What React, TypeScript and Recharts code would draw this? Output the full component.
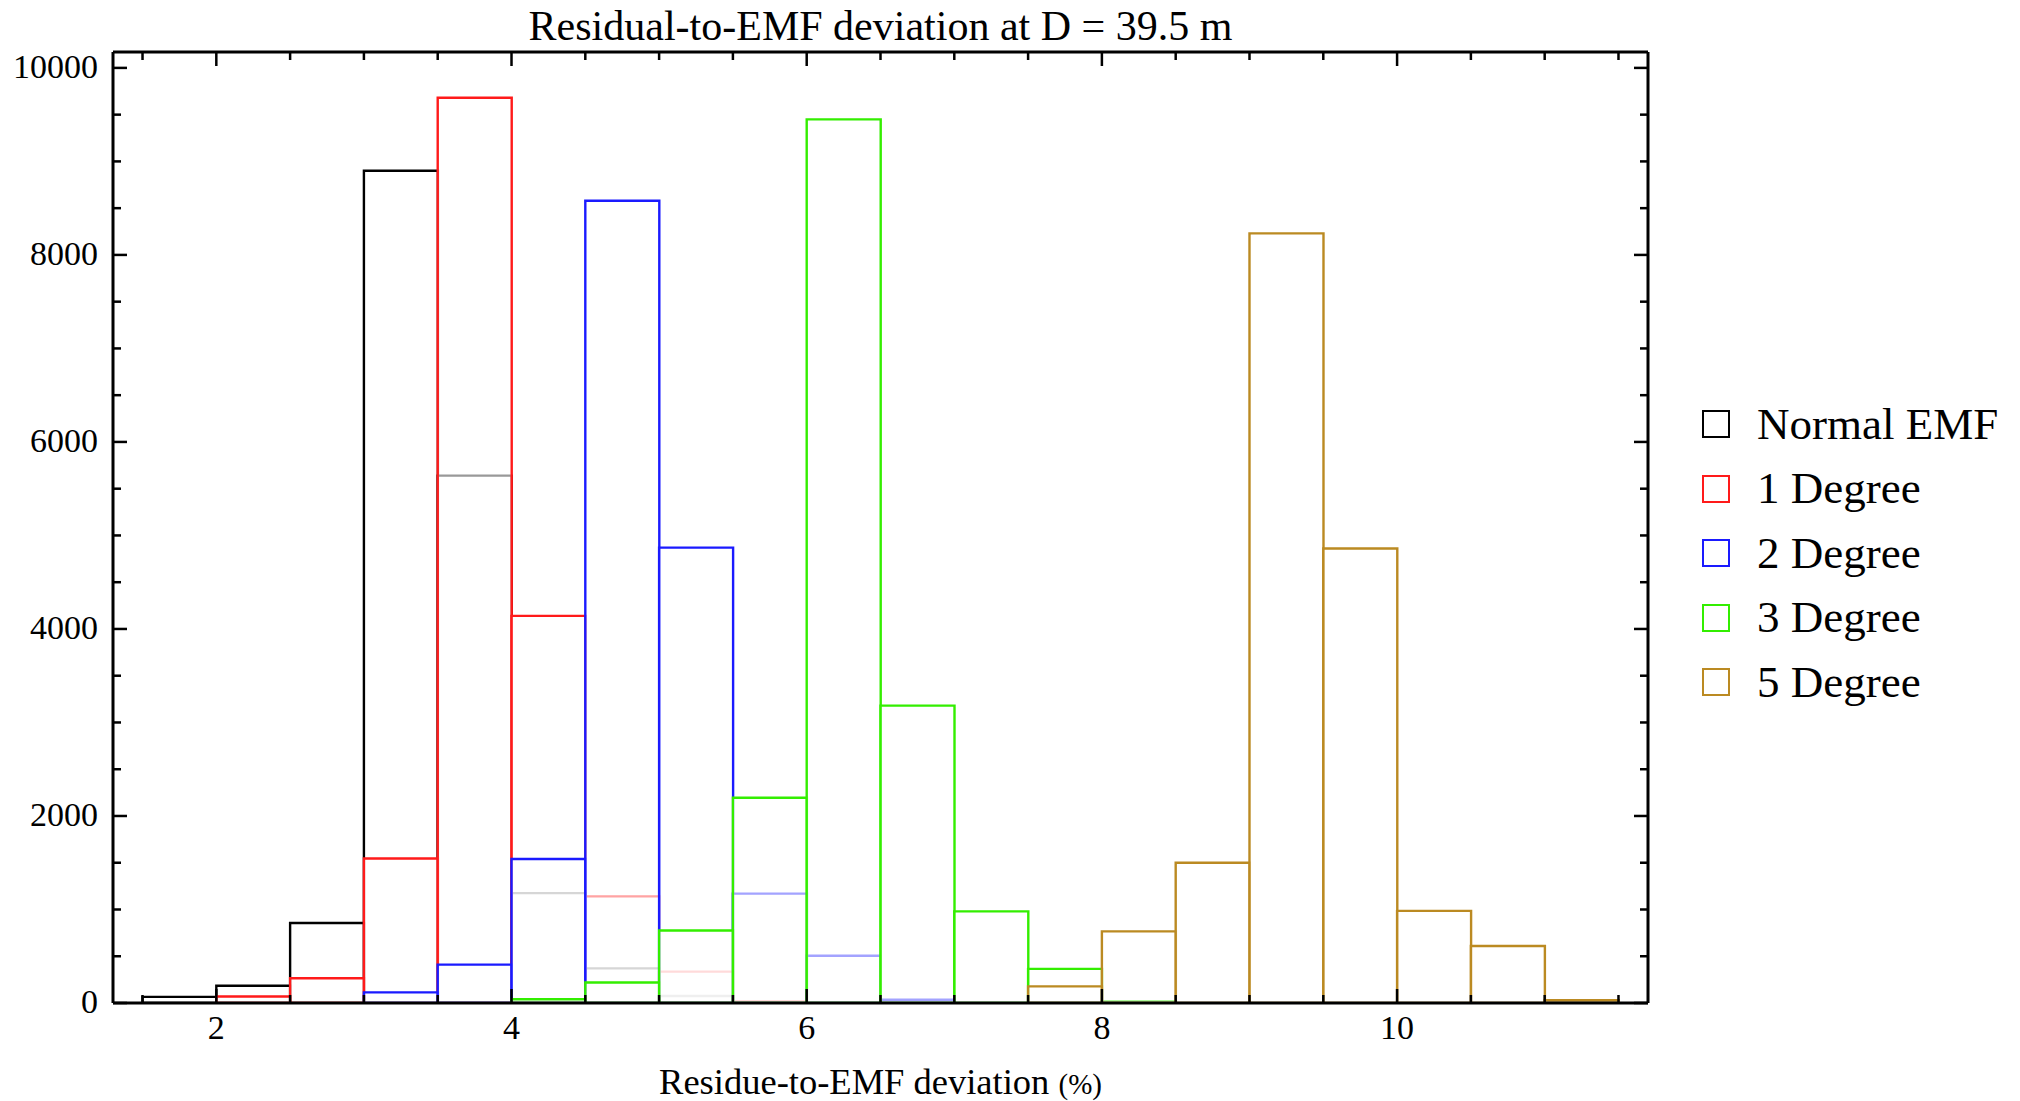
import { BarChart, Bar, XAxis, YAxis } from "recharts";

// bins are 0.5 wide, from 1.5 to 11.5
const BIN_CENTERS = [
  1.75, 2.25, 2.75, 3.25, 3.75, 4.25, 4.75, 5.25, 5.75, 6.25,
  6.75, 7.25, 7.75, 8.25, 8.75, 9.25, 9.75, 10.25, 10.75, 11.25,
];

const NORMAL_EMF = [65, 185, 855, 8900, 5640, 1175, 370, 75, null, null, null, null, null, null, null, null, null, null, null, null];
const DEG_1 = [null, 70, 265, 1545, 9680, 4140, 1140, 335, 20, null, null, null, null, null, null, null, null, null, null, null];
const DEG_2 = [null, null, null, 114, 410, 1540, 8580, 4870, 1170, 505, 35, null, null, null, null, null, null, null, null, null];
const DEG_3 = [null, null, null, null, null, 40, 220, 775, 2195, 9450, 3180, 980, 365, 20, null, null, null, null, null, null];
const DEG_5 = [null, null, null, null, null, null, null, null, null, null, null, null, 178, 766, 1500, 8230, 4860, 985, 610, 30];

const SERIES_NAMES = ["Normal EMF", "1 Degree", "2 Degree", "3 Degree", "5 Degree"];
const SERIES_KEYS = ["normal", "deg1", "deg2", "deg3", "deg5"];
const SERIES_COLORS = ["#000000", "#ff1a1a", "#1a1aff", "#33ee00", "#bb8a22"];
const SERIES_VALUES = [NORMAL_EMF, DEG_1, DEG_2, DEG_3, DEG_5];

const X_DOMAIN = [1.3, 11.7];
const X_TICKS = [1.5, 2, 2.5, 3, 3.5, 4, 4.5, 5, 5.5, 6, 6.5, 7, 7.5, 8, 8.5, 9, 9.5, 10, 10.5, 11, 11.5];
const X_MAJOR = [2, 4, 6, 8, 10];
const Y_DOMAIN = [0, 10170];
const Y_TICKS = [0, 500, 1000, 1500, 2000, 2500, 3000, 3500, 4000, 4500, 5000, 5500, 6000, 6500, 7000, 7500, 8000, 8500, 9000, 9500, 10000];
const Y_MAJOR = [0, 2000, 4000, 6000, 8000, 10000];

const BIN_START = 1.5;

const data = BIN_CENTERS.map((x, i) => {
  const row: Record<string, number | null> = { x, bin: i };
  SERIES_KEYS.forEach((k, s) => (row[k] = SERIES_VALUES[s][i]));
  return row;
});

const FONT = "'Liberation Serif', 'Times New Roman', serif";
const W = 2020;
const H = 1101;
const PLOT = { left: 113, top: 52, right: 1648, bottom: 1003 };
const PLOT_W = PLOT.right - PLOT.left;
const PAD = (PLOT_W * (BIN_START - X_DOMAIN[0])) / (X_DOMAIN[1] - X_DOMAIN[0]);

const MAJOR_LEN = 14;
const MINOR_LEN = 8;
const TICK_FONT = 34;

function BottomTick({ x, y, payload }: any) {
  const major = X_MAJOR.includes(payload.value);
  return (
    <g>
      <line x1={x} x2={x} y1={y} y2={y - (major ? MAJOR_LEN : MINOR_LEN)} stroke="#000" strokeWidth={2.5} />
      {major && (
        <text x={x} y={y + 36} textAnchor="middle" fontSize={TICK_FONT} fontFamily={FONT} fill="#000">
          {payload.value}
        </text>
      )}
    </g>
  );
}

function TopTick({ x, y, payload }: any) {
  const major = X_MAJOR.includes(payload.value);
  return <line x1={x} x2={x} y1={y} y2={y + (major ? MAJOR_LEN : MINOR_LEN)} stroke="#000" strokeWidth={2.5} />;
}

function LeftTick({ x, y, payload }: any) {
  const major = Y_MAJOR.includes(payload.value);
  return (
    <g>
      <line x1={x} x2={x + (major ? MAJOR_LEN : MINOR_LEN)} y1={y} y2={y} stroke="#000" strokeWidth={2.5} />
      {major && (
        <text x={x - 15} y={y + 10} textAnchor="end" fontSize={TICK_FONT} fontFamily={FONT} fill="#000">
          {payload.value}
        </text>
      )}
    </g>
  );
}

function RightTick({ x, y, payload }: any) {
  const major = Y_MAJOR.includes(payload.value);
  return <line x1={x} x2={x - (major ? MAJOR_LEN : MINOR_LEN)} y1={y} y2={y} stroke="#000" strokeWidth={2.5} />;
}

const axisLine = { stroke: "#000", strokeWidth: 3 };

export default function App() {
  return (
    <div style={{ position: "absolute", left: 0, top: 0, width: W, height: H, background: "#fff", fontFamily: FONT }}>
      <div
        style={{
          position: "absolute",
          left: PLOT.left,
          width: PLOT_W,
          top: 5,
          textAlign: "center",
          fontSize: 42,
          lineHeight: 1,
          color: "#000",
        }}
      >
        Residual-to-EMF deviation at D = 39.5 m
      </div>

      <BarChart
        width={W}
        height={H}
        data={data}
        barCategoryGap={0}
        barGap={0}
        margin={{ top: PLOT.top - 1, left: PLOT.left - 100, right: W - PLOT.right - 1, bottom: H - PLOT.bottom - 60 }}
      >
        {SERIES_KEYS.map((k) => (
          <XAxis
            key={`ax-${k}`}
            xAxisId={`s-${k}`}
            type="category"
            dataKey="bin"
            hide
            padding={{ left: PAD, right: PAD }}
          />
        ))}
        <XAxis
          xAxisId="bottom"
          orientation="bottom"
          type="number"
          dataKey="x"
          domain={X_DOMAIN}
          allowDataOverflow
          ticks={X_TICKS}
          interval={0}
          height={60}
          tickSize={0}
          tickMargin={0}
          tickLine={false}
          axisLine={axisLine}
          tick={<BottomTick />}
        />
        <XAxis
          xAxisId="top"
          orientation="top"
          type="number"
          dataKey="x"
          domain={X_DOMAIN}
          allowDataOverflow
          ticks={X_TICKS}
          interval={0}
          height={1}
          tickSize={0}
          tickMargin={0}
          tickLine={false}
          axisLine={axisLine}
          tick={<TopTick />}
        />
        <YAxis
          yAxisId="y"
          orientation="left"
          type="number"
          domain={Y_DOMAIN}
          allowDataOverflow
          ticks={Y_TICKS}
          interval={0}
          width={100}
          tickSize={0}
          tickMargin={0}
          tickLine={false}
          axisLine={axisLine}
          tick={<LeftTick />}
        />
        <YAxis
          yAxisId="yr"
          orientation="right"
          type="number"
          domain={Y_DOMAIN}
          allowDataOverflow
          ticks={Y_TICKS}
          interval={0}
          width={1}
          tickSize={0}
          tickMargin={0}
          tickLine={false}
          axisLine={axisLine}
          tick={<RightTick />}
        />
        {SERIES_KEYS.map((k, i) => (
          <Bar
            key={k}
            xAxisId={`s-${k}`}
            yAxisId="y"
            dataKey={k}
            name={SERIES_NAMES[i]}
            fill="#ffffff"
            fillOpacity={0.6}
            stroke={SERIES_COLORS[i]}
            strokeWidth={2.4}
            isAnimationActive={false}
          />
        ))}
      </BarChart>

      <div
        style={{
          position: "absolute",
          left: PLOT.left,
          width: PLOT_W,
          top: 1064,
          textAlign: "center",
          fontSize: 36.5,
          lineHeight: 1,
          color: "#000",
        }}
      >
        Residue-to-EMF deviation <span style={{ fontSize: 29 }}>(%)</span>
      </div>

      <div style={{ position: "absolute", left: 1702, top: 392 }}>
        {SERIES_NAMES.map((name, i) => (
          <div key={name} style={{ height: 64.5, display: "flex", alignItems: "center" }}>
            <div
              style={{
                width: 24,
                height: 24,
                border: `2.5px solid ${SERIES_COLORS[i]}`,
                marginRight: 27,
              }}
            />
            <span style={{ fontSize: 45, lineHeight: 1, color: "#000" }}>{name}</span>
          </div>
        ))}
      </div>
    </div>
  );
}
